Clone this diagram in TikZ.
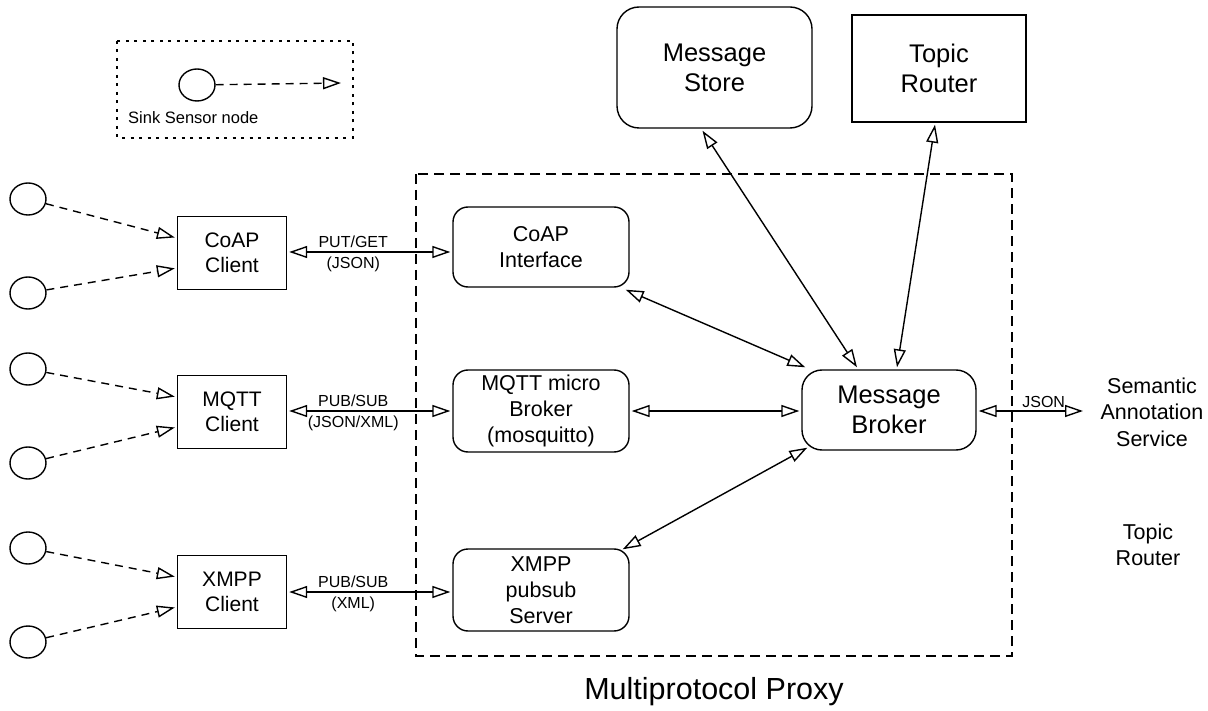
\documentclass[tikz,border=0pt]{standalone}
\usepackage{fontspec}
\setmainfont{Liberation Sans}
\usetikzlibrary{arrows.meta,positioning,shapes.geometric}

\tikzset{
  client/.style={draw, line width=1.4pt, minimum width=109pt, minimum height=73pt,
    align=center, font=\fontsize{21}{25}\selectfont},
  iface/.style={client, rounded corners=15pt, minimum width=176pt, minimum height=82pt,
    inner ysep=0pt, font=\fontsize{21.5}{26}\selectfont},
  bigbox/.style={client, font=\fontsize{25.5}{30}\selectfont},
  sensor/.style={draw, ellipse, line width=1.4pt, minimum width=36pt, minimum height=32pt, inner sep=0pt},
  link/.style={line width=1.4pt, {Triangle[open,length=18pt,width=12pt]}-{Triangle[open,length=18pt,width=12pt]}},
  feed/.style={line width=1.4pt, dash pattern=on 8pt off 6pt, -{Triangle[open,length=18pt,width=12pt]}},
  lbl/.style={font=\fontsize{16}{18}\selectfont, inner sep=1pt},
  plain/.style={align=center, font=\fontsize{21.5}{26.5}\selectfont}
}

\begin{document}
\begin{tikzpicture}[x=1pt,y=-1pt]
  \useasboundingbox (0,0) rectangle (1208,711);
  % Legende
  \draw[line width=2pt, dash pattern=on 3pt off 5.5pt] (117,41) rectangle (353,138);
  \node[sensor] (ls) at (197,85) {};
  \coordinate (lend) at (341,83);
  \draw[feed] (ls) -- (lend);
  \node[lbl, font=\fontsize{16.5}{18}\selectfont, anchor=west] (ltext) at (127,118) {Sink Sensor node};
  % Proxy
  \draw[line width=1.4pt, dash pattern=on 10pt off 6pt] (416,174) rectangle (1012,656);
  \node[font=\fontsize{30.5}{34}\selectfont] (proxy) at (714,692) {Multiprotocol Proxy};
  % Clients
  \node[client] (cc) at (232,253) {CoAP\\Client};
  \node[client] (mc) at (232,412) {MQTT\\Client};
  \node[client] (xc) at (232,592) {XMPP\\Client};
  % Sensoren
  \node[sensor] (s1) at (28,199) {};
  \node[sensor] (s2) at (28,293) {};
  \node[sensor] (s3) at (28,369) {};
  \node[sensor] (s4) at (28,463) {};
  \node[sensor] (s5) at (28,548) {};
  \node[sensor] (s6) at (28,642) {};
  \draw[feed, shorten >=2pt] (s1) -- ([yshift=15pt]cc.west);
  \draw[feed, shorten >=2pt] (s2) -- ([yshift=-15pt]cc.west);
  \draw[feed, shorten >=2pt] (s3) -- ([yshift=15pt]mc.west);
  \draw[feed, shorten >=2pt] (s4) -- ([yshift=-15pt]mc.west);
  \draw[feed, shorten >=2pt] (s5) -- ([yshift=15pt]xc.west);
  \draw[feed, shorten >=2pt] (s6) -- ([yshift=-15pt]xc.west);
  % Schnittstellen
  \node[iface, minimum height=80pt] (ci) at (541,247) {CoAP\\Interface};
  \node[iface] (mb2) at (541,411) {MQTT micro\\Broker\\(mosquitto)};
  \node[iface] (xs) at (541,590) {XMPP\\pubsub\\Server};
  \draw[link, shorten <=2pt, shorten >=2pt] (cc.east |- 0,252) -- node[lbl, pos=0.4, above=3pt] {PUT/GET} node[lbl, pos=0.4, below=3pt] {(JSON)} (ci.west |- 0,252);
  \draw[link, shorten <=2pt, shorten >=2pt] (mc.east |- 0,411) -- node[lbl, pos=0.4, above=3pt] {PUB/SUB} node[lbl, pos=0.4, below=3pt] {(JSON/XML)} (mb2.west |- 0,411);
  \draw[link, shorten <=2pt, shorten >=2pt] (xc.east |- 0,592) -- node[lbl, pos=0.4, above=3pt] {PUB/SUB} node[lbl, pos=0.4, below=3pt] {(XML)} (xs.west |- 0,592);
  % Broker
  \node[bigbox, rounded corners=20pt, minimum width=174pt, minimum height=80pt] (mb) at (889,410) {Message\\Broker};
  \node[bigbox, rounded corners=22pt, minimum width=195pt, minimum height=121pt] (ms) at (714.5,67.5) {Message\\Store};
  \node[bigbox, minimum width=174pt, minimum height=107pt] (tr) at (939,68.5) {Topic\\Router};
  \draw[link] ([xshift=-4pt,yshift=-2pt]ci.south east) -- ([xshift=4pt,yshift=2pt]mb.north west);
  \draw[link, shorten <=2pt, shorten >=2pt] (mb2.east |- 0,411) -- (mb.west |- 0,411);
  \draw[link] ([xshift=-7pt,yshift=-1pt]xs.north east) -- ([xshift=6pt,yshift=3pt]mb.south west);
  \draw[link] ([xshift=-12pt,yshift=-2pt]ms.south) -- ([xshift=-32pt,yshift=2pt]mb.north);
  \draw[link] ([xshift=-4pt,yshift=-2pt]tr.south) -- ([xshift=8pt,yshift=2pt]mb.north);
  % Dienste
  \node[plain] (sas) at (1152,412) {Semantic\\Annotation\\Service};
  \node[plain] (tr2) at (1148,545) {Topic\\Router};
  \draw[link, shorten <=2pt] (mb.east |- 0,411) -- node[lbl, pos=0.63, above=2pt] {JSON} (1083,411);
\end{tikzpicture}
\end{document}
